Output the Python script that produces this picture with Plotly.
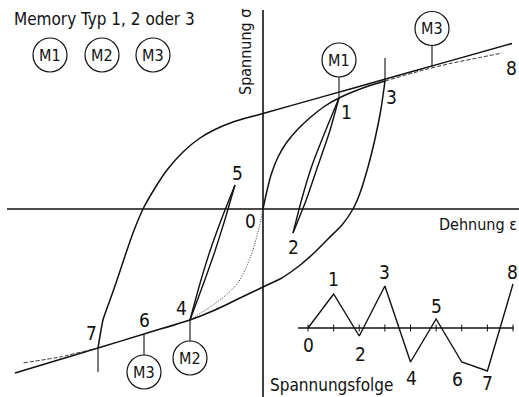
import plotly.graph_objects as go

# --- Spannungs-Dehnungs-Pfade (Dehnung eps, Spannung sig) ---------------
# Zyklische Kurve oben: Ast 7 -> 8 einschließlich Geradenstück
ast_7_8_eps = [-1.65, -1.60, -1.53, -1.46, -1.38, -1.30, -1.20, -1.08, -0.96, -0.80,
               -0.63, -0.47, -0.30, -0.13, 0.00, 0.60, 1.20, 1.80, 2.49]
ast_7_8_sig = [-1.39, -1.11, -0.91, -0.71, -0.47, -0.24, 0.00, 0.21, 0.39, 0.57,
               0.71, 0.80, 0.87, 0.92, 0.955, 1.124, 1.292, 1.461, 1.655]

# Erstbelastung 0 -> 1 -> 3
ast_0_3_eps = [0.00, 0.03, 0.08, 0.15, 0.24, 0.35, 0.49, 0.62, 0.76, 0.92, 1.07, 1.22]
ast_0_3_sig = [0.00, 0.14, 0.34, 0.52, 0.67, 0.80, 0.93, 1.03, 1.11, 1.18, 1.235, 1.28]

# Entlastung 3 -> 4 -> 6 -> 7 und Verlängerung
ast_3_7_eps = [1.22, 1.18, 1.12, 1.05, 0.97, 0.90, 0.79, 0.66, 0.52, 0.36, 0.17, 0.00,
               -0.23, -0.48, -0.73, -1.19, -1.65, -2.48]
ast_3_7_sig = [1.28, 1.00, 0.70, 0.42, 0.16, 0.00, -0.16, -0.29, -0.43, -0.57, -0.70, -0.78,
               -0.89, -1.01, -1.11, -1.25, -1.39, -1.64]

# Hystereseschleife 1 - 2 - 1
schleife_12_a_eps = [0.76, 0.620, 0.490, 0.387, 0.30]
schleife_12_a_sig = [1.11, 0.770, 0.435, 0.098, -0.24]
schleife_12_b_eps = [0.76, 0.665, 0.550, 0.435, 0.30]
schleife_12_b_sig = [1.11, 0.770, 0.435, 0.098, -0.24]

# Hystereseschleife 4 - 5 - 4
schleife_45_a_eps = [-0.73, -0.638, -0.535, -0.414, -0.28]
schleife_45_a_sig = [-1.11, -0.7725, -0.435, -0.0975, 0.24]
schleife_45_b_eps = [-0.73, -0.605, -0.485, -0.378, -0.28]
schleife_45_b_sig = [-1.11, -0.7725, -0.435, -0.0975, 0.24]

# Erstbelastung im Druckbereich 0 -> 4 (punktiert)
erst_druck_eps = [0.00, -0.04, -0.10, -0.18, -0.25, -0.38, -0.53, -0.73]
erst_druck_sig = [0.00, -0.19, -0.41, -0.61, -0.74, -0.87, -0.98, -1.11]

# Gestrichelte Fortsetzungen
gestr_oben_eps = [1.22, 1.57, 1.87, 2.17, 2.39]
gestr_oben_sig = [1.28, 1.38, 1.455, 1.515, 1.56]
gestr_unten_eps = [-1.65, -2.03, -2.40]
gestr_unten_sig = [-1.39, -1.48, -1.54]

# Umkehrpunkte 0..8
punkt_nr = ["0", "1", "2", "3", "4", "5", "6", "7", "8"]
punkt_eps = [0.00, 0.76, 0.30, 1.22, -0.73, -0.28, -1.19, -1.65, 2.39]
punkt_sig = [0.00, 1.11, -0.24, 1.28, -1.11, 0.24, -1.25, -1.39, 1.56]

# Spannungsfolge (Schritt, Spannung)
folge_schritt = [0, 1, 2, 3, 4, 5, 6, 7, 8]
folge_spannung = [0.0, 3.4, -0.8, 4.2, -3.4, 0.9, -3.4, -4.3, 4.4]

FONT = "DejaVu Sans Condensed, DejaVu Sans, sans-serif"
SCHWARZ = "#111111"

fig = go.Figure()


def linie(xs, ys, width=1.5, dash="solid", color=SCHWARZ, xa="x", ya="y", smooth=0.5):
    fig.add_trace(go.Scatter(x=xs, y=ys, mode="lines", xaxis=xa, yaxis=ya,
                             line=dict(color=color, width=width, dash=dash,
                                       shape="spline" if smooth else "linear",
                                       smoothing=smooth if smooth else None),
                             hoverinfo="skip", showlegend=False))


# Koordinatenachsen
linie([-2.56, 2.56], [0, 0], width=1.6, smooth=0)
linie([0, 0], [-1.88, 1.99], width=1.6, smooth=0)

# Kurven
linie(ast_7_8_eps, ast_7_8_sig)
linie(ast_0_3_eps, ast_0_3_sig)
linie(ast_3_7_eps, ast_3_7_sig)
linie(schleife_12_a_eps, schleife_12_a_sig, width=1.4)
linie(schleife_12_b_eps, schleife_12_b_sig, width=1.4)
linie(schleife_45_a_eps, schleife_45_a_sig, width=1.4)
linie(schleife_45_b_eps, schleife_45_b_sig, width=1.4)
linie(erst_druck_eps, erst_druck_sig, width=1.0, dash="1px,1.5px", color="#333333")
linie(gestr_oben_eps, gestr_oben_sig, width=1.0, dash="4px,2px", color="#333333")
linie(gestr_unten_eps, gestr_unten_sig, width=1.0, dash="4px,2px", color="#333333")

# Memory-Marken: Stiel vom Umkehrpunkt zum Kreis
memory = [
    # (Punktindex, Beschriftung, Richtung)
    (1, "M1", +1),
    (None, "M3", +1),
    (4, "M2", -1),
    (6, "M3", -1),
]
marke_m3_eps, marke_m3_sig = 1.69, 1.425  # Berührpunkt M3 auf der zyklischen Kurve

shapes = []
annotations = []
PX = 0.01  # eine Pixelhöhe in Spannungseinheiten


def kreis(xref, yref, cx, cy, text, r=17):
    shapes.append(dict(type="circle", xref=xref, yref=yref,
                       xsizemode="pixel", ysizemode="pixel",
                       xanchor=cx, yanchor=cy, x0=-r, x1=r, y0=-r, y1=r,
                       line=dict(color=SCHWARZ, width=1.2)))
    annotations.append(dict(x=cx, y=cy, xref=xref, yref=yref, text=text,
                            showarrow=False, font=dict(family=FONT, size=16, color=SCHWARZ)))


for idx, text, richtung in memory:
    if idx is None:
        ex, sy = marke_m3_eps, marke_m3_sig
    else:
        ex, sy = punkt_eps[idx], punkt_sig[idx]
    stiel = 21
    ende = sy + richtung * stiel * PX
    linie([ex, ex], [sy, ende], width=1.1, smooth=0)
    kreis("x", "y", ex, ende + richtung * 17 * PX, text)

# Kurze Senkrechte bei 3 und 7
linie([punkt_eps[3], punkt_eps[3]], [punkt_sig[3], punkt_sig[3] + 23 * PX], width=1.1, smooth=0)
linie([punkt_eps[7], punkt_eps[7]], [punkt_sig[7], punkt_sig[7] - 24 * PX], width=1.1, smooth=0)

# Legende der Memory-Typen
for cx, text in zip([-2.13, -1.61, -1.10], ["M1", "M2", "M3"]):
    kreis("x", "y", cx, 1.54, text)

# Beschriftung der Umkehrpunkte (Versatz in Pixeln)
versatz = [(-13, -12), (7, -14), (0, -14), (6, -16), (-9, 12), (2, 12), (0, 14), (-7, 15), (9, -15)]
for nr, ex, sy, (dx, dy) in zip(punkt_nr, punkt_eps, punkt_sig, versatz):
    annotations.append(dict(x=ex, y=sy, xref="x", yref="y", text=nr, showarrow=False,
                            xshift=dx, yshift=dy,
                            font=dict(family=FONT, size=19, color=SCHWARZ)))

# Spannungsfolge (eigenes Achsenpaar)
linie([-0.39, 8.04], [0, 0], width=1.3, xa="x2", ya="y2", smooth=0)
fig.add_trace(go.Scatter(x=folge_schritt, y=[0] * len(folge_schritt), mode="markers",
                         xaxis="x2", yaxis="y2",
                         marker=dict(symbol="line-ns", size=5,
                                     line=dict(color=SCHWARZ, width=1)),
                         hoverinfo="skip", showlegend=False))
fig.add_trace(go.Scatter(x=folge_schritt, y=folge_spannung, mode="lines",
                         xaxis="x2", yaxis="y2",
                         line=dict(color=SCHWARZ, width=1.4),
                         hoverinfo="skip", showlegend=False))
folge_versatz = [(0, -17), (0, 15), (1, -18), (0, 14), (1, -16), (0, 13), (-4, -17), (0, -12), (-1, 12)]
for nr, sx, sy, (dx, dy) in zip(punkt_nr, folge_schritt, folge_spannung, folge_versatz):
    annotations.append(dict(x=sx, y=sy, xref="x2", yref="y2", text=nr, showarrow=False,
                            xshift=dx, yshift=dy,
                            font=dict(family=FONT, size=19, color=SCHWARZ)))

# Freie Texte
W, H = 519, 397


def text_px(x, y, text, size=17, angle=0, xanchor="center"):
    annotations.append(dict(x=x / W, y=1 - y / H, xref="paper", yref="paper", text=text,
                            showarrow=False, textangle=angle, xanchor=xanchor,
                            yanchor="middle",
                            font=dict(family=FONT, size=size, color=SCHWARZ)))


text_px(104, 19, "Memory Typ 1, 2 oder 3", size=17)
text_px(245, 52, "Spannung σ", size=16, angle=-90)
text_px(519, 224, "Dehnung ε", size=16, xanchor="right")
text_px(331, 385, "Spannungsfolge", size=17)

fig.update_layout(
    width=W, height=H,
    margin=dict(l=0, r=0, t=0, b=0),
    paper_bgcolor="white", plot_bgcolor="white",
    shapes=shapes, annotations=annotations,
    xaxis=dict(range=[-2.63, 2.56], visible=False, domain=[0, 1]),
    yaxis=dict(range=[-1.88, 2.09], visible=False, domain=[0, 1]),
    xaxis2=dict(range=[-12.02, 8.234], visible=False, overlaying="x", anchor="y2"),
    yaxis2=dict(range=[-6.9, 32.8], visible=False, overlaying="y", anchor="x2"),
    showlegend=False,
)

fig.write_html("out.html")
